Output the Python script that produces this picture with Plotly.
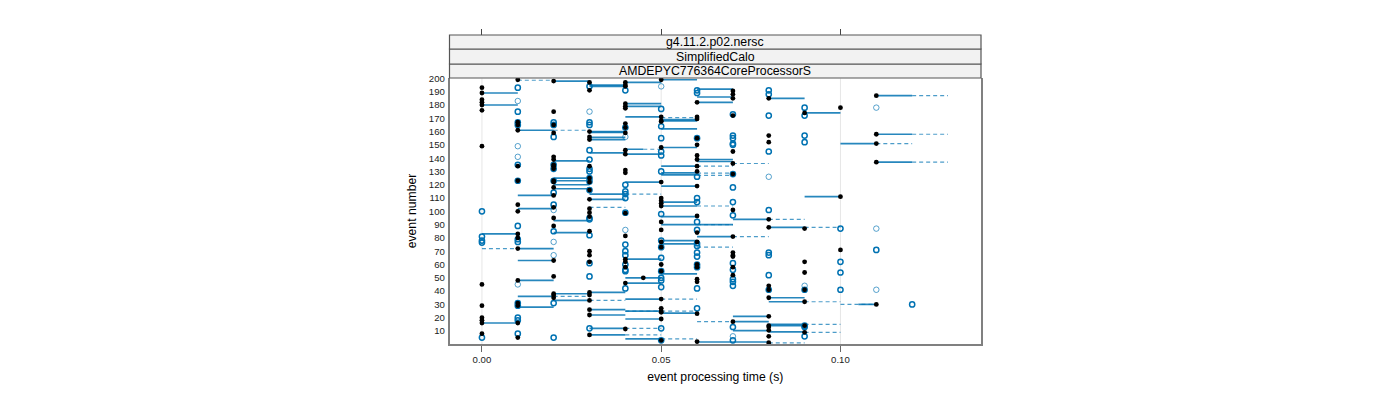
import plotly.graph_objects as go

# event numbers per time bin (x value in seconds)
bins = [0.00, 0.01, 0.02, 0.03, 0.04, 0.05, 0.06, 0.07, 0.08, 0.09, 0.10, 0.11, 0.12]

black_events = [
    [193, 189, 184, 182, 180, 176, 149, 45, 29, 20, 18, 16, 8],
    [199, 167, 165, 161, 134, 123, 105, 100, 83, 80, 72, 48, 31, 29, 16, 5],
    [198, 175, 165, 159, 141, 139, 135, 134, 132, 123, 122, 118, 112, 103, 95, 89, 63, 51, 38, 37, 35],
    [197, 191, 160, 156, 154, 134, 125, 122, 116, 109, 102, 99, 96, 85, 70, 67, 62, 39, 37, 33, 26, 22, 7],
    [197, 195, 194, 181, 179, 177.5, 166, 163, 159, 146, 143, 131, 129, 98.6, 81.5, 64, 62, 58, 46, 11.5],
    [199, 171, 168, 167.5, 148, 122, 110, 108, 106, 104, 92, 86, 77, 73, 60, 55, 34, 27, 25, 24, 19, 3],
    [182, 171, 169.5, 155, 150, 142, 139, 134, 130, 119, 96.5, 84, 77, 60, 58, 49, 47, 23, 2],
    [190.6, 188, 185, 172, 145, 136, 128, 101, 81, 69, 67, 66, 58, 52, 17],
    [185, 157, 152, 94, 88, 44, 41, 35, 21, 14, 13, 10.5, 6, 1.2],
    [174, 87, 62, 54, 41, 32, 14, 9],
    [178, 111, 71],
    [187, 158, 151, 137, 30],
    [],
]
extra_black_time = [0.045]
extra_black_event = [50]

blue_events = [
    [100, 81, 78, 76.5, 5],
    [193, 175, 167, 165, 135, 123, 89, 79, 77, 31, 29, 20, 18, 8],
    [167, 165, 156, 135, 132, 123, 114, 105, 85, 31, 5],
    [194, 167, 165, 146, 139, 132, 130, 125, 122.5, 116, 95, 94, 82, 61, 51, 12],
    [191, 163, 120, 115, 113, 110, 99, 70, 67, 60, 56, 55, 42, 75],
    [177, 164, 155, 145, 142, 130, 98, 78, 73, 65, 55, 50, 48, 43, 12, 3],
    [191, 189, 155, 126, 110, 107, 92, 86, 76, 74, 69, 66, 60, 58, 42, 27],
    [173, 157, 155, 151, 150, 128, 118, 107, 97, 61, 56, 49, 47, 44, 13, 3],
    [191, 188, 172, 145, 101, 69, 67, 52, 41],
    [178, 172, 157, 152, 41, 14, 13, 6],
    [87, 62, 54, 41],
    [71],
    [30],
]
light_events = [
    [],
    [183, 149, 141, 45],
    [101, 77, 67],
    [175],
    [156, 86],
    [194],
    [],
    [6],
    [126],
    [44],
    [],
    [178, 87, 41],
    [],
]

solid_events = [
    [189, 180, 83, 16],
    [161, 112, 102, 72, 63, 48, 36, 28],
    [198, 138, 125, 123, 120, 117, 93, 84, 38, 33],
    [195, 194, 160, 159.4, 155.6, 154, 144, 113, 109, 39, 26, 22, 12, 7],
    [197, 181, 179, 171, 143, 122, 64, 50, 46, 34, 25, 19, 4],
    [199, 169, 168, 162, 148, 134, 129, 127.5, 119, 107, 104, 96, 90, 78, 75.5, 53, 23.4],
    [192, 186, 182, 139, 137.5, 90, 81, 1.7],
    [94, 21, 17, 10.3, 1.7],
    [185, 88, 35, 32, 15, 14, 9.3],
    [174, 111],
    [151],
    [187, 158, 137],
    [],
]
dashed_events = [
    [72],
    [198.6],
    [161, 36],
    [103, 33],
    [113, 25, 12, 7],
    [170.5, 34, 25, 4],
    [134, 128.7, 127, 104, 90, 73, 17],
    [136, 81],
    [94, 1],
    [88, 32, 15, 9],
    [30],
    [151],
    [187, 158, 137],
]
partial_solid = [(0.04, 0.045, 146.7), (0.105, 0.11, 30)]
partial_dashed = [(0.045, 0.05, 146.7)]

strip_labels = ["g4.11.2.p02.nersc", "SimplifiedCalo", "AMDEPYC776364CoreProcessorS"]
x_ticks = [0.0, 0.05, 0.1]
x_labels = ["0.00", "0.05", "0.10"]
y_ticks = list(range(10, 201, 10))

BLUE = "#0072B2"
W, H = 1400, 400


def flat(groups):
    xs, ys = [], []
    for t, g in zip(bins, groups):
        for e in g:
            xs.append(t)
            ys.append(e)
    return xs, ys


def segs(groups, step=0.01):
    xs, ys = [], []
    for t, g in zip(bins, groups):
        for e in g:
            xs += [t, t + step, None]
            ys += [e, e, None]
    return xs, ys


fig = go.Figure()

for v in x_ticks:
    fig.add_trace(go.Scatter(x=[v, v], y=[0.2, 200], mode="lines", hoverinfo="skip",
                             line=dict(color="#e6e6e6", width=1), showlegend=False))

xs, ys = segs(dashed_events)
for a, b, e in partial_dashed:
    xs += [a, b, None]
    ys += [e, e, None]
fig.add_trace(go.Scatter(x=xs, y=ys, mode="lines", showlegend=False,
                         line=dict(color="rgba(0,114,178,0.7)", width=1.2, dash="4px,3px")))

xs, ys = segs(solid_events)
for a, b, e in partial_solid:
    xs += [a, b, None]
    ys += [e, e, None]
fig.add_trace(go.Scatter(x=xs, y=ys, mode="lines", showlegend=False,
                         line=dict(color="rgba(0,114,178,0.85)", width=1.7)))

xs, ys = flat(light_events)
fig.add_trace(go.Scatter(x=xs, y=ys, mode="markers", showlegend=False,
                         marker=dict(symbol="circle-open", size=5.5, color="rgba(0,114,178,0.65)",
                                     line=dict(width=1))))
xs, ys = flat(blue_events)
fig.add_trace(go.Scatter(x=xs, y=ys, mode="markers", showlegend=False,
                         marker=dict(symbol="circle-open", size=5.2, color=BLUE, line=dict(width=1.5))))
xs, ys = flat(black_events)
xs += extra_black_time
ys += extra_black_event
fig.add_trace(go.Scatter(x=xs, y=ys, mode="markers", showlegend=False,
                         marker=dict(symbol="circle", size=4.8, color="black")))

# invisible trace that activates the top axis
fig.add_trace(go.Scatter(x=[0], y=[100], xaxis="x2", mode="markers", showlegend=False,
                         marker=dict(opacity=0), hoverinfo="skip"))

FONT = "Liberation Sans"
x0, x1 = 449.5 / W, 981 / W
y_bot, y_top = 1 - 344 / H, 1 - 78 / H
strip_top = 1 - 35 / H
XR = [-0.00905, 0.1392]

fig.update_layout(
    width=W, height=H, margin=dict(l=0, r=0, t=0, b=0, autoexpand=False),
    paper_bgcolor="white", plot_bgcolor="white", showlegend=False,
    font=dict(family=FONT, color="black"),
    xaxis=dict(domain=[x0, x1], range=XR, tickvals=x_ticks, ticktext=x_labels, automargin=False,
               ticks="outside", ticklen=6, tickwidth=1, tickcolor="#666666",
               showgrid=False, zeroline=False, showline=True, linecolor="#808080", linewidth=1.5,
               mirror=False, tickfont=dict(size=9.6, color="#222222"),
               title=dict(text="event processing time (s)", font=dict(size=12.2), standoff=8)),
    xaxis2=dict(overlaying="x", matches="x", anchor="free", position=strip_top, side="top",
                tickvals=x_ticks, ticks="outside", ticklen=6, tickwidth=1, tickcolor="#444444",
                automargin=False,
                showticklabels=False, showgrid=False, zeroline=False, showline=False),
    yaxis=dict(domain=[y_bot, y_top], range=[0.2, 200.3], tickvals=y_ticks, ticks="", automargin=False,
               ticklabelstandoff=1, showgrid=False, zeroline=False, showline=True,
               linecolor="#808080", linewidth=1.5, mirror=True,
               tickfont=dict(size=9.6, color="#222222"),
               title=dict(text="event number", font=dict(size=12.2), standoff=10)),
)

strip_edges = [78, 64, 49, 35]
for i, label in enumerate(strip_labels[::-1]):
    lo, hi = 1 - strip_edges[i] / H, 1 - strip_edges[i + 1] / H
    fig.add_shape(type="rect", xref="paper", yref="paper", x0=x0, x1=x1, y0=lo, y1=hi,
                  fillcolor="#f2f2f2", line=dict(color="#555555", width=1.2), layer="above")
    fig.add_annotation(xref="paper", yref="paper", x=(x0 + x1) / 2, y=(lo + hi) / 2, text=label,
                       xanchor="center", yanchor="middle",
                       showarrow=False, font=dict(size=12.3, color="black", family=FONT))

fig.write_html("out.html", config={"displayModeBar": False},
               post_script="document.body.style.margin='0';")
